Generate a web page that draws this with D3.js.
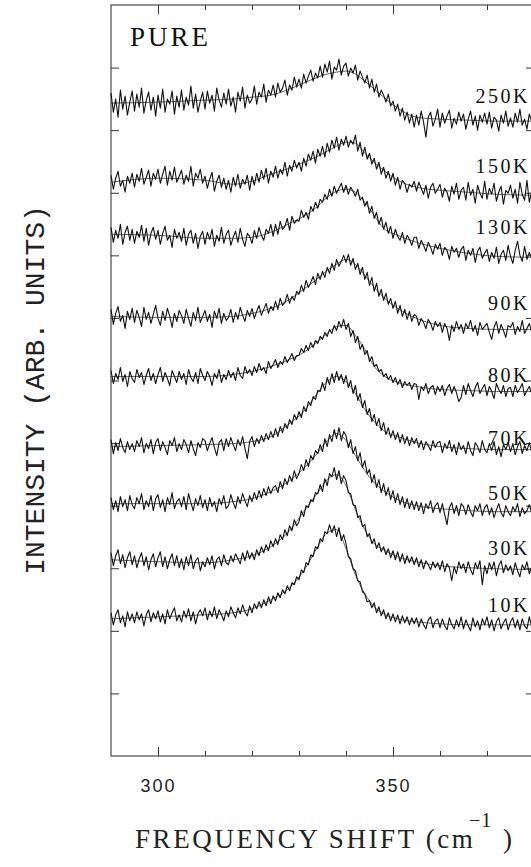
<!DOCTYPE html>
<html>
<head>
<meta charset="utf-8">
<script src="https://cdn.jsdelivr.net/npm/d3@7"></script>
<style>
  body { margin: 0; background: #fff; }
  svg { display: block; }
</style>
</head>
<body>
<svg id="chart" width="531" height="867"></svg>
<script>
// temperatures, top to bottom
const temps = ['250K', '150K', '130K', '90K', '80K', '70K', '50K', '30K', '10K'];
// vertical offset of each spectrum (arb. units)
const offsets = [634, 560, 498, 426, 364, 306, 244, 186, 131];
// where each temperature label sits (arb. units)
const labelLevels = [652, 582, 521, 445, 374, 311, 256, 201, 144];

// frequency shift sampled every 0.5 cm-1 from 290 to 380
const shift = d3.range(0, 181).map(i => 290 + i * 0.5);

// measured spectra (arb. units)
const spec250K = [28,9,22,4,31,12,25,6,19,30, 10,27,14,33,8,21,29,11,24,5, 26,13,32,9,22,17,30,7,25,14,
  31,11,24,16,35,13,27,9,20,29, 12,30,18,26,10,33,21,14,28,17, 32,15,24,9,29,20,34,13,26,18,
  22,35,17,29,24,37,19,31,26,36, 24,38,29,33,41,26,36,31,44,34, 42,33,47,38,45,51,40,48,43,55,
  44,57,49,60,42,54,51,62,46,55, 58,45,53,48,56,41,50,44,38,46, 33,42,29,37,24,31,26,19,27,15,
  20,10,17,5,13,1,9,-2,7,-6, 6,-4,10,-1,-16,4,9,-5,2,12, -6,8,-2,5,11,-7,3,-3,9,0,
  7,-8,2,10,-4,5,-9,6,-1,8, -3,9,-7,4,1,-10,6,-2,10,-5, 3,-6,8,-1,12,-4,2,-8,7,0, 4];
const spec150K = [20,6,17,24,9,15,3,19,12,22, 8,21,14,27,11,18,25,9,22,16, 26,12,21,29,10,24,15,28,13,19,
  25,11,20,14,29,9,22,17,26,12, 19,7,16,23,4,14,20,8,17,6, 15,3,18,9,21,7,16,11,20,5,
  19,10,22,13,25,16,27,12,24,18, 29,17,26,21,33,19,30,24,35,27, 33,24,37,29,41,35,44,32,46,39,
  49,38,52,43,55,47,58,45,56,50, 59,48,55,51,60,44,53,39,48,36, 42,31,37,26,33,21,28,17,24,14,
  22,10,18,6,15,12,3,11,8,14, 4,13,7,1,10,-3,8,12,2,6, 11,-2,7,3,-6,9,1,12,-4,5,
  8,-5,13,0,6,-8,10,2,-3,14, -4,7,1,12,-6,3,9,-9,5,2, 10,-3,6,-8,13,1,-5,15,-7,4, 5];
const spec130K = [30,15,27,19,33,13,25,31,17,28, 14,26,20,32,16,29,12,24,30,18, 27,13,24,31,17,22,10,28,19,25,
  16,29,12,23,27,14,24,9,21,26, 13,25,18,28,11,22,16,30,14,23, 27,12,20,26,15,29,18,11,24,21,
  14,27,19,30,22,17,28,24,33,21, 33,23,36,28,31,39,27,41,34,37, 36,47,40,45,38,51,46,55,49,58,
  55,63,58,68,61,71,64,69,74,65, 72,63,70,66,61,68,57,60,51,56, 44,51,39,45,33,40,28,35,24,31,
  19,28,21,17,25,14,22,18,12,20, 20,9,17,12,6,15,10,3,13,8, 14,2,10,7,-2,11,5,9,0,8,
  11,-3,7,2,9,-5,6,10,-1,4, 8,-4,5,-1,10,-6,3,7,-3,12, 1,-6,7,16,2,-4,11,-2,5,-1, 3];
const spec90K = [20,5,16,23,8,14,1,18,10,21, 7,19,12,3,22,10,17,6,15,24, 11,4,18,9,21,13,2,16,8,19,
  14,6,20,11,3,17,9,22,7,13, 19,8,15,2,18,11,21,6,16,9, 12,20,7,17,10,22,14,8,19,13,
  21,11,18,24,14,20,26,16,23,19, 28,20,31,24,27,35,26,33,29,38, 35,44,38,49,42,47,53,45,56,50,
  58,52,62,56,66,59,70,63,68,74, 67,75,64,71,60,66,55,62,50,57, 44,52,38,46,33,40,29,36,25,31,
  21,28,16,24,13,20,10,18,8,15, 13,4,11,7,1,10,6,-1,8,3, 7,-3,6,1,-11,4,-2,8,0,5,
  -4,6,1,9,-2,4,-6,7,0,3, 6,-3,-10,2,8,-4,5,-1,-8,4, 2,7,-5,3,-2,9,-4,1,6,-3, 2];
const spec80K = [21,8,18,12,24,10,17,5,20,13, 9,22,14,19,7,16,23,11,18,8, 17,24,10,19,13,6,21,15,9,20,
  12,18,7,22,14,10,19,8,23,16, 11,20,15,6,18,13,22,9,17,12, 21,14,19,11,24,16,13,25,18,22,
  16,25,19,28,21,24,18,30,23,27, 32,24,30,27,35,29,33,38,31,36, 36,43,39,46,41,49,44,51,48,55,
  52,59,55,62,58,66,61,70,64,72, 62,68,55,61,49,55,42,47,37,41, 30,35,25,27,20,22,15,18,12,16,
  9,14,7,12,4,10,6,9,2,8, 7,-8,5,1,8,-2,4,6,-3,5, 0,6,-4,3,7,-2,5,-1,-10,-6,
  6,-3,8,1,-5,4,9,-2,3,7, -4,5,0,-7,8,2,-2,6,-5,3, 4,-5,6,-1,3,8,-4,1,5,-2, 0];
const spec70K = [10,-4,7,-1,11,2,-3,8,0,6, -2,9,3,12,-3,6,1,10,-4,7, 11,-1,8,2,-5,9,4,12,-2,6,
  0,10,5,-3,9,1,-6,7,2,11, 9,-1,6,12,2,-6,7,10,-1,11, 3,12,5,-1,10,4,13,1,-9,8,
  13,3,11,6,14,8,16,10,18,12, 21,13,23,17,26,21,30,25,35,30, 38,32,43,38,48,44,53,50,59,58,
  67,59,72,65,76,67,78,69,75,66, 74,62,69,56,64,49,56,42,49,35, 41,28,35,24,31,19,27,15,22,12,
  19,10,17,7,15,6,13,4,12,6, 11,2,9,0,8,4,-1,9,2,7, 8,-3,6,1,9,-2,5,-5,7,0,
  4,-4,8,-1,-6,7,3,-3,9,0, -3,6,-1,8,-5,3,-7,5,0,7, -2,6,-5,3,8,-4,4,-1,7,-2, 2];
const spec50K = [14,2,11,0,15,5,12,1,16,7, 3,14,8,18,2,11,5,16,1,13, 17,4,12,0,14,7,19,3,10,13,
  5,15,2,18,9,1,13,6,16,4, 12,1,14,5,10,0,13,7,16,3, 6,17,9,3,15,8,18,11,5,16,
  10,19,12,21,14,23,16,25,18,24, 26,19,30,23,33,27,36,30,41,33, 38,47,41,52,45,56,52,61,58,67,
  60,73,65,77,70,82,73,84,71,80, 76,64,72,58,65,51,59,44,51,38, 42,29,37,24,32,19,28,16,24,12,
  21,9,18,7,15,4,13,3,11,2, 10,1,9,-2,8,3,11,-1,6,9, -1,8,-3,-13,4,9,-2,6,-4,8,
  5,-3,7,0,-5,6,1,8,-4,4, 7,-3,4,-6,2,8,-1,-5,6,0, -4,5,0,8,-5,4,-2,1,7,-1, 1];
const spec30K = [17,4,14,20,6,15,2,12,18,5, 14,2,11,17,4,13,0,10,16,3, 12,18,3,13,1,10,16,4,14,2,
  11,0,13,4,15,1,9,12,-1,8, 3,12,5,14,1,10,13,4,15,7, 5,14,8,16,11,6,17,9,19,11,
  17,10,20,14,23,17,25,19,29,23, 31,25,35,30,40,34,44,39,50,44, 48,59,53,64,62,70,68,77,76,85,
  78,91,84,96,93,102,90,99,86,94, 89,77,76,65,64,52,54,43,45,33, 36,26,31,21,27,18,23,15,21,12,
  19,10,18,8,16,6,14,7,13,5, 12,3,10,1,9,5,0,8,2,7, 0,9,-2,6,2,-11,3,-4,8,1,
  6,-3,8,0,-5,7,1,9,-15,4, -4,7,0,8,-6,4,9,-3,5,-1, 4,-5,7,-1,-7,5,0,8,-4,3, 1];
const spec10K = [12,0,10,15,2,9,-2,13,4,11, 2,13,5,11,-1,10,15,3,12,6, 14,3,11,1,15,6,12,17,4,10,
  3,14,7,16,4,13,1,11,15,9, 17,5,14,8,18,6,15,10,4,14, 8,18,12,7,17,11,20,13,9,19,
  12,21,16,23,17,25,19,28,21,29, 24,32,27,35,31,39,34,42,40,48, 45,55,52,62,60,70,68,78,76,86,
  83,93,91,100,92,99,88,97,84,90, 81,68,66,56,54,44,43,33,31,23, 24,17,22,12,18,9,15,6,12,4,
  11,3,10,1,9,2,8,0,7,1, 7,-2,6,0,-4,5,8,-3,4,6, -3,6,-1,-5,7,0,-4,5,-2,8,
  -4,5,-1,-6,7,-2,4,-5,6,0, 8,-3,5,-6,3,7,-4,2,6,-5, 3,7,-3,5,-5,6,-1,-4,8,-2, 2];

// fitted line shapes
const fitX = [290,300,310,316,320,324,328,331,334,336,338,340,342,344,346,348,351,355,360,366,372,380];
const fit250K = [18,19,21,22,24,26,32,38,44,47,49,50,47,40,32,24,13,4,2,1,0,0];
const fit150K = [13,17,15,11,14,21,27,33,39,44,49,53,52,42,33,25,15,8,5,3,1,0];
const fit130K = [23,22,19,19,20,25,34,41,51,60,66,68,65,55,42,29,22,15,9,4,1,0];
const fit90K  = [13,12,12,13,16,21,30,40,51,59,65,70,65,54,42,32,21,11,4,1,0,0];
const fit80K  = [15,15,15,17,20,25,32,39,50,58,65,66,56,42,25,16,9,5,2,1,0,0];
const fit70K  = [3,4,5,6,8,13,26,38,57,68,73,68,56,40,28,19,13,7,3,1,0,0];
const fit50K  = [8,8,8,10,13,20,31,43,59,71,78,71,56,41,29,21,12,6,3,1,0,0];
const fit30K  = [10,8,7,10,14,23,39,58,77,90,95,84,60,40,26,20,13,8,4,2,1,0];
const fit10K  = [6,8,10,12,16,25,37,54,78,92,95,76,50,31,18,11,6,3,1,0,0,0];

const xMajor = [300, 350];
const xMinor = [310, 320, 330, 340, 360, 370];
const yTicks = d3.range(62.5, 750, 62.5);

const specs = [spec250K, spec150K, spec130K, spec90K, spec80K, spec70K, spec50K, spec30K, spec10K];
const fits = [fit250K, fit150K, fit130K, fit90K, fit80K, fit70K, fit50K, fit30K, fit10K];

const svg = d3.select('#chart');
svg.append('rect').attr('width', 531).attr('height', 867).attr('fill', '#fff');

const x = d3.scaleLinear().domain([290, 380]).range([111, 534]);
const y = d3.scaleLinear().domain([0, 750]).range([756, 5]);

const serif = '"Liberation Serif", "Times New Roman", serif';

// frame
svg.append('rect')
  .attr('x', x(290)).attr('y', y(750))
  .attr('width', x(380) - x(290)).attr('height', y(0) - y(750))
  .attr('fill', 'none').attr('stroke', '#3a3a3a').attr('stroke-width', 1.1);

function styleAxis(g) {
  g.select('.domain').remove();
  g.selectAll('line').attr('stroke', '#333').attr('stroke-width', 1);
}

// bottom and top axes, ticks point inwards
svg.append('g').attr('transform', `translate(0,${y(0)})`)
  .call(d3.axisBottom(x).tickValues(xMajor).tickSize(-9).tickSizeOuter(0).tickPadding(23).tickFormat(d3.format('d')))
  .call(styleAxis)
  .call(g => g.selectAll('text')
    .style('font-family', '"Liberation Sans", Arial, sans-serif')
    .style('font-size', '18px').style('letter-spacing', '2px').attr('fill', '#222'));
svg.append('g').attr('transform', `translate(0,${y(0)})`)
  .call(d3.axisBottom(x).tickValues(xMinor).tickSize(-5).tickSizeOuter(0).tickFormat(''))
  .call(styleAxis);
svg.append('g').attr('transform', `translate(0,${y(750)})`)
  .call(d3.axisTop(x).tickValues(xMajor).tickSize(-9).tickSizeOuter(0).tickFormat(''))
  .call(styleAxis);
svg.append('g').attr('transform', `translate(0,${y(750)})`)
  .call(d3.axisTop(x).tickValues(xMinor).tickSize(-5).tickSizeOuter(0).tickFormat(''))
  .call(styleAxis);

// left and right axes
svg.append('g').attr('transform', `translate(${x(290)},0)`)
  .call(d3.axisLeft(y).tickValues(yTicks).tickSize(-8).tickSizeOuter(0).tickFormat(''))
  .call(styleAxis);
svg.append('g').attr('transform', `translate(${x(380)},0)`)
  .call(d3.axisRight(y).tickValues(yTicks).tickSize(-8).tickSizeOuter(0).tickFormat(''))
  .call(styleAxis);

// spectra + fits
temps.forEach((t, k) => {
  const off = offsets[k];
  const fitLine = d3.line()
    .x((d, i) => x(fitX[i]))
    .y(d => y(off + d))
    .curve(d3.curveMonotoneX);
  svg.append('path')
    .attr('d', fitLine(fits[k]))
    .attr('fill', 'none').attr('stroke', '#555').attr('stroke-width', 0.9);

  const dataLine = d3.line()
    .x((d, i) => x(shift[i]))
    .y(d => y(off + d));
  svg.append('path')
    .attr('d', dataLine(specs[k]))
    .attr('fill', 'none').attr('stroke', '#111').attr('stroke-width', 1.1)
    .attr('stroke-linejoin', 'round');

  svg.append('text')
    .attr('x', 530).attr('y', y(labelLevels[k]))
    .attr('text-anchor', 'end')
    .style('font-family', serif).style('font-size', '20px').style('letter-spacing', '2.5px')
    .attr('fill', '#111')
    .text(t);
});

// PURE
svg.append('text')
  .attr('x', 130).attr('y', 46)
  .style('font-family', serif).style('font-size', '27px').style('letter-spacing', '3px')
  .attr('fill', '#111').text('PURE');

// axis titles
svg.append('text')
  .attr('transform', 'translate(44,390) rotate(-90)')
  .attr('text-anchor', 'middle')
  .style('font-family', '"Liberation Mono", "Courier New", monospace').style('font-size', '28px')
  .attr('fill', '#222')
  .text('INTENSITY (ARB. UNITS)');

svg.append('text')
  .attr('x', 135).attr('y', 848)
  .style('font-family', serif).style('font-size', '27px').style('letter-spacing', '2.6px')
  .attr('fill', '#222')
  .text('FREQUENCY SHIFT (cm');
svg.append('text')
  .attr('x', 469).attr('y', 827)
  .style('font-family', serif).style('font-size', '20px').style('letter-spacing', '1px')
  .attr('fill', '#222')
  .text('\u22121');
svg.append('text')
  .attr('x', 503).attr('y', 848)
  .style('font-family', serif).style('font-size', '27px')
  .attr('fill', '#222')
  .text(')');
</script>
</body>
</html>
